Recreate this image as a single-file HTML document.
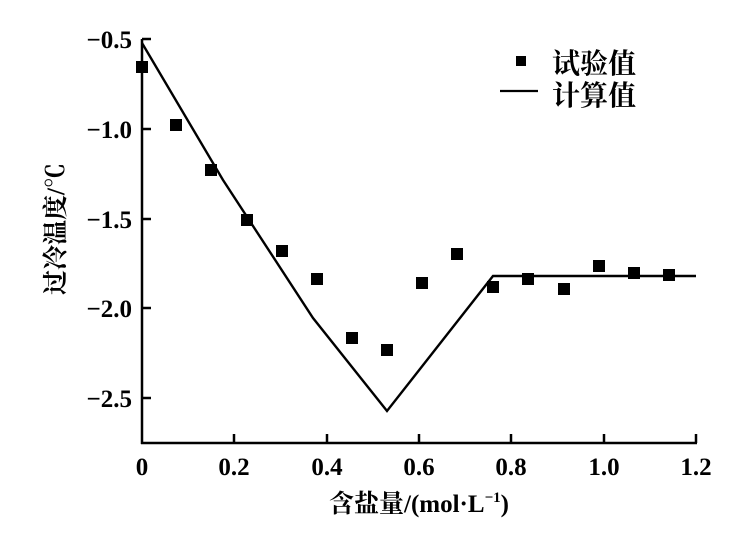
<!DOCTYPE html>
<html><head><meta charset="utf-8"><style>
html,body{margin:0;padding:0;background:#fff;}
svg{display:block;}
text{font-family:"Liberation Serif","Noto Serif CJK SC",serif;fill:#000;}
</style></head><body>
<svg width="742" height="534" viewBox="0 0 742 534" xmlns="http://www.w3.org/2000/svg">
<g stroke="#000" stroke-width="2.5" fill="none">
<line x1="142" y1="39" x2="142" y2="444"/>
<line x1="141" y1="443" x2="697" y2="443"/>
<line x1="142" y1="39" x2="151" y2="39"/>
<line x1="142" y1="129" x2="151" y2="129"/>
<line x1="142" y1="219" x2="151" y2="219"/>
<line x1="142" y1="308" x2="151" y2="308"/>
<line x1="142" y1="398" x2="151" y2="398"/>
<line x1="234" y1="443" x2="234" y2="434"/>
<line x1="327" y1="443" x2="327" y2="434"/>
<line x1="419" y1="443" x2="419" y2="434"/>
<line x1="511" y1="443" x2="511" y2="434"/>
<line x1="604" y1="443" x2="604" y2="434"/>
<line x1="696" y1="443" x2="696" y2="434"/>
</g>
<polyline points="142,43 223,180 313,318 387,411 493,276 696,276" fill="none" stroke="#000" stroke-width="2.4"/>
<g fill="#000">
<rect x="136" y="61" width="12" height="12"/>
<rect x="170" y="119" width="12" height="12"/>
<rect x="205" y="164" width="12" height="12"/>
<rect x="241" y="214" width="12" height="12"/>
<rect x="276" y="245" width="12" height="12"/>
<rect x="311" y="273" width="12" height="12"/>
<rect x="346" y="332" width="12" height="12"/>
<rect x="381" y="344" width="12" height="12"/>
<rect x="416" y="277" width="12" height="12"/>
<rect x="451" y="248" width="12" height="12"/>
<rect x="487" y="281" width="12" height="12"/>
<rect x="522" y="273" width="12" height="12"/>
<rect x="558" y="283" width="12" height="12"/>
<rect x="593" y="260" width="12" height="12"/>
<rect x="628" y="267" width="12" height="12"/>
<rect x="663" y="269" width="12" height="12"/>
<rect x="516" y="56" width="10" height="10"/>
</g>
<line x1="500" y1="91" x2="538" y2="91" stroke="#000" stroke-width="2.2"/>
<g font-size="28" font-weight="bold">
<text x="552" y="73">试验值</text>
<text x="552" y="105">计算值</text>
</g>
<g font-size="25" text-anchor="end" font-weight="bold">
<text x="132" y="48">−0.5</text>
<text x="132" y="138">−1.0</text>
<text x="132" y="228">−1.5</text>
<text x="132" y="317">−2.0</text>
<text x="132" y="407">−2.5</text>
</g>
<g font-size="25" text-anchor="middle" font-weight="bold">
<text x="142" y="475">0</text>
<text x="234" y="475">0.2</text>
<text x="327" y="475">0.4</text>
<text x="419" y="475">0.6</text>
<text x="511" y="475">0.8</text>
<text x="604" y="475">1.0</text>
<text x="696" y="475">1.2</text>
</g>
<text x="419" y="512" font-size="25" font-weight="bold" text-anchor="middle">含盐量/(mol·L<tspan font-size="15" dy="-10">−1</tspan><tspan dy="10">)</tspan></text>
<text transform="translate(64,229) rotate(-90)" font-size="25" font-weight="bold" text-anchor="middle">过冷温度/℃</text>
</svg>
</body></html>
